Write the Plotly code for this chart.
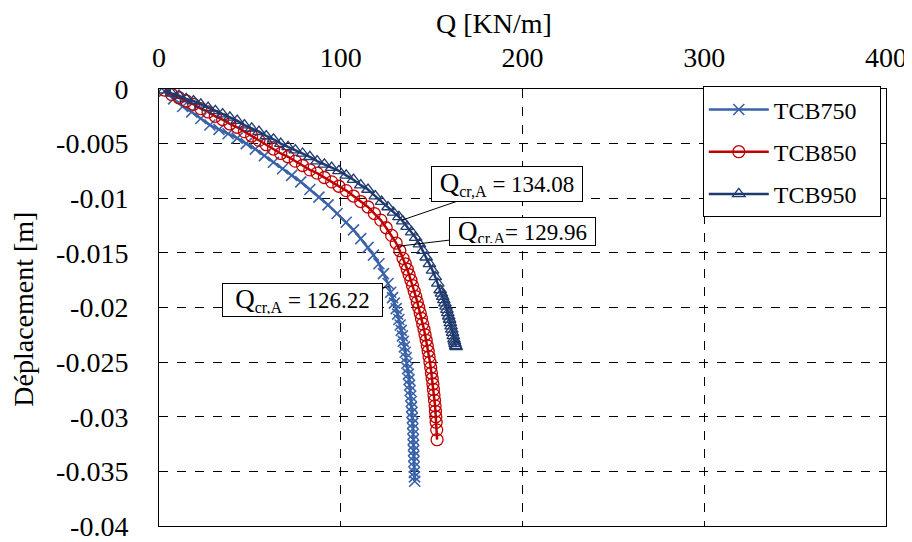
import plotly.graph_objects as go

# ---------------- data ----------------
q_750 = [3, 8, 13, 18, 23, 28, 33, 38, 43, 48, 53, 58, 63, 68, 73, 78, 83, 88, 93, 98,
         103, 107, 111, 115, 118, 121, 123.5, 126,
         127.5, 128.5, 129.5, 130.5, 131.3, 132, 132.7, 133.3, 133.9, 134.4, 135, 135.5,
         136, 136.4, 136.8, 137.2, 137.6, 137.9, 138.2, 138.5, 138.8, 139.0, 139.2, 139.4,
         139.6, 139.7, 139.8, 139.9, 140.0, 140.1, 140.2, 140.3, 140.4, 140.5, 140.6, 140.7]
d_750 = [-0.0002, -0.0009, -0.0016, -0.0021, -0.0027, -0.0033, -0.0037, -0.0041, -0.0045, -0.0050,
         -0.0055, -0.0061, -0.0067, -0.0073, -0.0079, -0.0085, -0.0092, -0.0099, -0.0106, -0.0114,
         -0.0122, -0.0129, -0.0137, -0.0145, -0.0152, -0.0160, -0.0169, -0.0178,
         -0.0186, -0.0191, -0.0196, -0.0201, -0.0206, -0.0211, -0.0216, -0.0221, -0.0226, -0.0231,
         -0.0236, -0.0241, -0.0246, -0.0251, -0.0256, -0.0261, -0.0266, -0.0271, -0.0276, -0.0281,
         -0.0286, -0.0291, -0.0296, -0.0301, -0.0306, -0.0311, -0.0316, -0.0321, -0.0326, -0.0331,
         -0.0336, -0.0341, -0.0346, -0.0351, -0.0355, -0.0359]

q_850 = [3, 7, 11, 15, 19, 23, 27, 31, 35, 39, 43, 47, 51, 55, 59, 63, 67, 71, 75, 79,
         83, 87, 91, 95, 99, 103, 107, 111, 115, 118.5, 122, 125, 128, 130.5, 132.5, 134.3,
         135.5, 136.6, 137.6, 138.6, 139.5, 140.4, 141.3, 142.1, 142.9, 143.7, 144.4, 145.1,
         145.8, 146.4, 147.0, 147.6, 148.1, 148.6, 149.1, 149.5, 149.9, 150.3, 150.7, 151.0,
         151.3, 151.6, 151.9, 152.1, 152.3, 152.5, 152.8, 153.0]
d_850 = [-0.0001, -0.0005, -0.0008, -0.0011, -0.0014, -0.0018, -0.0021, -0.0025, -0.0028, -0.0032,
         -0.0035, -0.0039, -0.0043, -0.0047, -0.0051, -0.0055, -0.0059, -0.0062, -0.0066, -0.0070,
         -0.0074, -0.0077, -0.0081, -0.0085, -0.0089, -0.0093, -0.0098, -0.0103, -0.0108, -0.0114,
         -0.0120, -0.0127, -0.0134, -0.0141, -0.0148, -0.0155,
         -0.0160, -0.0165, -0.0170, -0.0175, -0.0180, -0.0185, -0.0190, -0.0195, -0.0200, -0.0205,
         -0.0210, -0.0215, -0.0220, -0.0225, -0.0230, -0.0235, -0.0240, -0.0245, -0.0250, -0.0255,
         -0.0260, -0.0265, -0.0270, -0.0275, -0.0280, -0.0285, -0.0290, -0.0295, -0.0300, -0.0305,
         -0.0312, -0.0321]

q_950 = [3, 7, 11, 15, 19, 23, 27, 31, 35, 39, 43, 47, 51, 55, 59, 63, 67, 71, 75, 79,
         83, 87, 91, 95, 99, 103, 107, 111, 115, 119, 122.5, 126, 129, 132, 134.1, 136.5,
         139, 141.2, 143.3, 145.2, 147, 148.8, 150.5, 152, 153.4, 154.7,
         155.4, 156.1, 156.7, 157.3, 157.9, 158.4, 158.9, 159.4, 159.9, 160.3, 160.7, 161.1,
         161.5, 161.9, 162.3, 162.6, 162.9, 163.2, 163.5]
d_950 = [-0.0001, -0.0004, -0.0006, -0.0009, -0.0011, -0.0014, -0.0017, -0.0020, -0.0023, -0.0026,
         -0.0029, -0.0033, -0.0036, -0.0039, -0.0043, -0.0046, -0.0050, -0.0053, -0.0056, -0.0059,
         -0.0062, -0.0066, -0.0069, -0.0072, -0.0075, -0.0079, -0.0083, -0.0088, -0.0092, -0.0098,
         -0.0103, -0.0108, -0.0113, -0.0117, -0.0121, -0.0126,
         -0.0131, -0.0136, -0.0142, -0.0148, -0.0154, -0.0160, -0.0166, -0.0172, -0.0178, -0.0184,
         -0.0187, -0.0190, -0.0193, -0.0196, -0.0199, -0.0202, -0.0205, -0.0208, -0.0211, -0.0214,
         -0.0217, -0.0220, -0.0223, -0.0226, -0.0229, -0.0231, -0.0233, -0.0235, -0.0236]

x_ticks = [0, 100, 200, 300, 400]
y_tickvals = [0, -0.005, -0.01, -0.015, -0.02, -0.025, -0.03, -0.035, -0.04]
y_ticktext = ["0", "-0.005", "-0.01", "-0.015", "-0.02", "-0.025", "-0.03", "-0.035", "-0.04"]

# critical load callouts
crit_text = ["<span style='font-size:27px'>Q</span><sub>cr,A</sub> = 134.08",
             "<span style='font-size:27px'>Q</span><sub>cr,A</sub>= 129.96",
             "<span style='font-size:27px'>Q</span><sub>cr,A</sub> = 126.22"]
crit_q = [133.8, 131.3, 126.4]
crit_d = [-0.0120, -0.0144, -0.0181]

FONT = "Liberation Serif, Times New Roman, serif"
C750 = "#3A62A8"
C850 = "#C00000"
C950 = "#1F3A6E"

def f(size):
    return dict(family=FONT, size=size, color="black")

NB = "\u00a0" * 3
fig = go.Figure()
fig.add_trace(go.Scatter(x=q_750, y=d_750, mode="lines+markers", name="TCB750" + NB, legendgroup="a",
                         line=dict(color=C750, width=2.5),
                         marker=dict(symbol="x-thin-open", size=11, color=C750,
                                     line=dict(color=C750, width=1.6))))
fig.add_trace(go.Scatter(x=q_850, y=d_850, mode="lines+markers", name="TCB850" + NB, legendgroup="b",
                         line=dict(color=C850, width=2.5),
                         marker=dict(symbol="circle-open", size=12, color=C850,
                                     line=dict(color=C850, width=1.3))))
fig.add_trace(go.Scatter(x=q_950, y=d_950, mode="lines+markers", name="TCB950" + NB, legendgroup="c",
                         line=dict(color=C950, width=2.5),
                         marker=dict(symbol="triangle-up-open", size=11, color=C950,
                                     line=dict(color=C950, width=1.3))))

# (ax, ay, box width, box height) in pixels
boxes = [(105, -36, 146, 30), (125, -15, 141, 23), (-86, 13, 155, 28)]
for t, q, d, (ax, ay, w, h) in zip(crit_text, crit_q, crit_d, boxes):
    fig.add_annotation(x=q, y=d, text=t, showarrow=True, arrowhead=0, arrowwidth=1,
                       arrowcolor="black", ax=ax, ay=ay, bgcolor="white",
                       bordercolor="black", borderwidth=1, borderpad=2,
                       width=w, height=h, font=f(23))

# axis titles
fig.add_annotation(x=0.461, y=1.0, xref="paper", yref="paper", yanchor="middle",
                   yshift=66, text="Q [KN/m]", showarrow=False, font=f(28))
fig.add_annotation(x=0, y=0.495, xref="paper", yref="paper", xanchor="center",
                   xshift=-135, text="Déplacement [m]", textangle=-90, showarrow=False,
                   font=f(28))

fig.update_layout(
    width=904, height=534,
    margin=dict(l=151, r=26, t=81, b=16),
    paper_bgcolor="white", plot_bgcolor="white",
    font=f(28),
    showlegend=True,
    legend=dict(x=0.748, y=1.006, xanchor="left", yanchor="top",
                bgcolor="white", bordercolor="black", borderwidth=1,
                font=f(24), tracegroupgap=8, itemwidth=60),
)
fig.update_xaxes(side="top", range=[0, 400], tickvals=x_ticks, automargin=False,
                 showgrid=True, gridcolor="black", griddash="dash", gridwidth=1,
                 showline=True, linecolor="black", linewidth=1, mirror=True,
                 ticks="", zeroline=False, tickfont=f(28), ticklabelstandoff=10)
fig.update_yaxes(range=[-0.04, 0], tickvals=y_tickvals, ticktext=y_ticktext, automargin=False,
                 showgrid=True, gridcolor="black", griddash="dash", gridwidth=1,
                 showline=True, linecolor="black", linewidth=1, mirror=True,
                 ticks="", zeroline=False, tickfont=f(28), ticklabelstandoff=24)

fig.write_html("out.html")
